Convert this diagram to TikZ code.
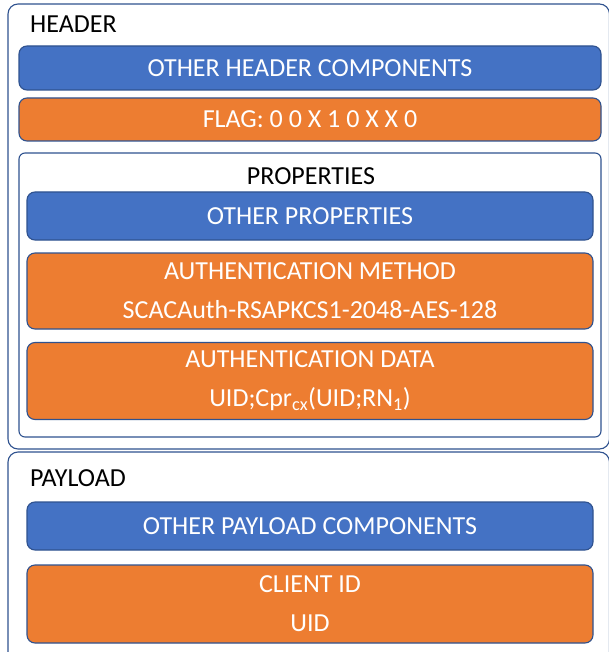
\documentclass[tikz,border=0pt]{standalone}
\usepackage{fontspec}
\setmainfont{Carlito}
\definecolor{edge}{HTML}{2F528F}
\definecolor{bluefill}{HTML}{4472C4}
\definecolor{orangefill}{HTML}{ED7D31}
\tikzset{
  frame/.style={draw=edge, line width=1.1pt, fill=white, rounded corners=10pt},
  field/.style={draw=edge, line width=1.1pt, rounded corners=8pt, text=white,
    align=center, inner sep=0pt, font=\fontsize{26}{39}\selectfont},
  bluefield/.style={field, fill=bluefill},
  orangefield/.style={field, fill=orangefill},
  title/.style={font=\fontsize{26}{30}\selectfont, text=black, inner sep=0pt},
}
\begin{document}
\begin{tikzpicture}[x=1pt, y=-1pt]
\useasboundingbox (0,0) rectangle (609,652);
\clip (0,0) rectangle (609,652);
% outer frames
\draw[frame] (8,4) rectangle (609.5,449);
\draw[frame] (8,452) rectangle (609.5,680);
% header contents
\node[title, anchor=west] (header) at (30,24) {HEADER};
\node[bluefield, minimum width=582pt, minimum height=44pt] (otherhdr) at (310,68) {OTHER HEADER COMPONENTS};
\node[orangefield, minimum width=582pt, minimum height=43pt] (flag) at (310,119.5) {FLAG: 0 0 X 1 0 X X 0};
% properties frame
\draw[draw=edge, line width=1.1pt, fill=white, rounded corners=6pt] (19,153) rectangle (601,437);
\node[title] (props) at (311,176) {PROPERTIES};
\node[bluefield, minimum width=566pt, minimum height=48pt] (otherprops) at (310,216) {OTHER PROPERTIES};
\node[orangefield, minimum width=566pt, minimum height=76pt] (authmethod) at (310,291) {AUTHENTICATION METHOD\\SCACAuth-RSAPKCS1-2048-AES-128};
\node[orangefield, minimum width=566pt, minimum height=77pt] (authdata) at (310,381) {AUTHENTICATION DATA\\UID;Cpr\textsubscript{cx}(UID;RN\textsubscript{1})};
% payload contents
\node[title, anchor=west] (payload) at (30,478) {PAYLOAD};
\node[bluefield, minimum width=566pt, minimum height=48pt] (otherpay) at (310,526) {OTHER PAYLOAD COMPONENTS};
\node[orangefield, minimum width=566pt, minimum height=78pt] (clientid) at (310,604) {CLIENT ID\\UID};
\end{tikzpicture}
\end{document}
